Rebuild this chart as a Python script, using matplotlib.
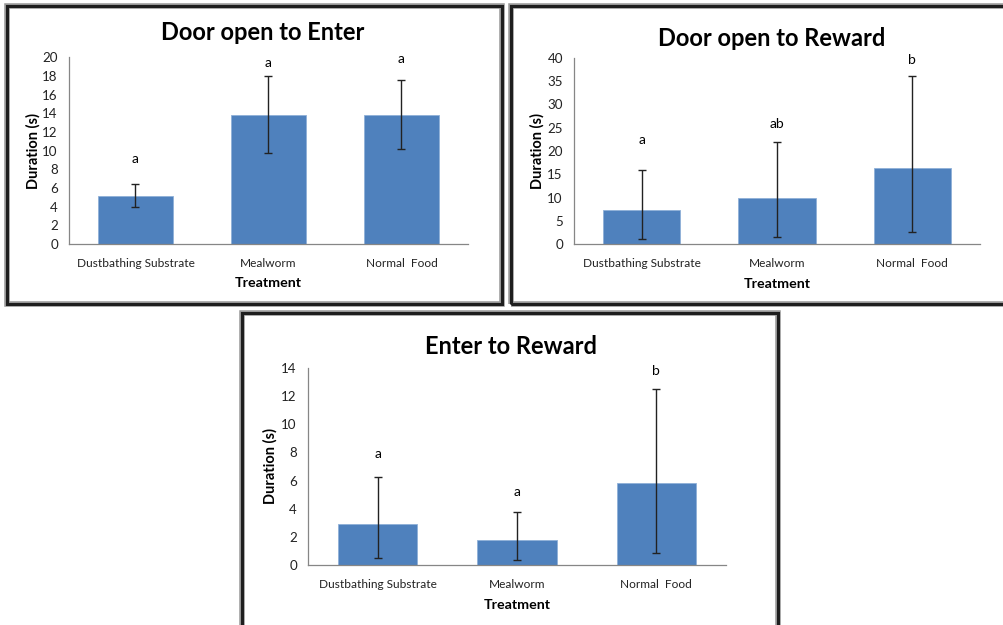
import matplotlib
matplotlib.use("Agg")
import matplotlib.pyplot as plt
from matplotlib.patches import Rectangle
import numpy as np

plt.rcParams['font.family'] = ['Lato', 'DejaVu Sans']

categories = ["Dustbathing Substrate", "Mealworm", "Normal  Food"]

# Door open to Enter
enter_mean = [5.18, 13.86, 13.86]
enter_low = [3.93, 9.71, 10.21]
enter_high = [6.43, 18.0, 17.54]
enter_letters = ["a", "a", "a"]
enter_letter_y = [9.1, 19.4, 19.8]

# Door open to Reward
reward_mean = [7.29, 9.93, 16.43]
reward_low = [1.14, 1.5, 2.57]
reward_high = [16.0, 21.86, 36.0]
reward_letters = ["a", "ab", "b"]
reward_letter_y = [22.3, 25.7, 39.5]

# Enter to Reward
e2r_mean = [2.90, 1.74, 5.85]
e2r_low = [0.45, 0.31, 0.81]
e2r_high = [6.25, 3.73, 12.55]
e2r_letters = ["a", "a", "b"]
e2r_letter_y = [7.9, 5.2, 13.8]

W, H = 1004, 625
fig = plt.figure(figsize=(W / 100, H / 100), dpi=100)
fig.patch.set_facecolor("white")

BAR = "#4F81BD"
AXIS = "#868686"


def frac_rect(x0, y0, x1, y1):
    """Pixel box (top-left origin) -> figure-fraction rect."""
    return [x0 / W, 1 - y1 / H, (x1 - x0) / W, (y1 - y0) / H]


def frame(x0, y0, x1, y1):
    # soft grey halo then dark border
    for lw, col in [(4.0, "#9a9a9a"), (2.2, "#1e1e1e")]:
        r = Rectangle((x0 / W, 1 - y1 / H), (x1 - x0) / W, (y1 - y0) / H,
                      transform=fig.transFigure, fill=False, lw=lw,
                      edgecolor=col, zorder=10)
        fig.add_artist(r)


def panel(ax_box, title, mean, low, high, letters, letter_y, ymax, ystep,
          title_xy, ylabel_x, xlabel_y):
    ax = fig.add_axes(frac_rect(*ax_box))
    x = np.arange(len(categories))
    m = np.array(mean)
    yerr = [m - np.array(low), np.array(high) - m]
    ax.bar(x, m, width=0.57, color=BAR, edgecolor="#8fb0d8", linewidth=0.6,
           zorder=2)
    ax.errorbar(x, m, yerr=yerr, fmt="none", ecolor="#222222", elinewidth=1.0,
                capsize=2.6, capthick=1.0, zorder=3)
    for xi, lab, ly in zip(x, letters, letter_y):
        ax.text(xi, ly, lab, ha="center", va="center", fontsize=10,
                color="black")
    ax.set_xlim(-0.5, len(categories) - 0.5)
    ax.set_ylim(0, ymax)
    ax.set_yticks(np.arange(0, ymax + 0.001, ystep))
    ax.set_xticks(x)
    ax.set_xticklabels(categories, fontsize=8.6, color="#222222")
    ax.tick_params(axis="y", labelsize=9.6, labelcolor="#222222", length=0,
                   pad=8)
    ax.tick_params(axis="x", length=0, pad=10)
    for s in ["top", "right"]:
        ax.spines[s].set_visible(False)
    for s in ["left", "bottom"]:
        ax.spines[s].set_color(AXIS)
        ax.spines[s].set_linewidth(0.9)
    ax.set_facecolor("none")
    fig.text(title_xy[0] / W, 1 - title_xy[1] / H, title, ha="center",
             va="center", fontsize=17, fontweight="bold")
    fig.text(ylabel_x / W, 1 - (ax_box[1] + ax_box[3]) / 2 / H,
             "Duration (s)", rotation=90, ha="center", va="center",
             fontsize=10.5, fontweight="bold")
    fig.text((ax_box[0] + ax_box[2]) / 2 / W, 1 - xlabel_y / H, "Treatment",
             ha="center", va="center", fontsize=10.3, fontweight="bold")
    return ax


# frames
frame(7, 6, 502, 304)
frame(511, 6, 1010, 304)
frame(242, 313, 778, 640)

panel((69, 57.3, 468, 244), "Door open to Enter", enter_mean, enter_low,
      enter_high, enter_letters, enter_letter_y, 20, 2,
      (263, 33), 33, 283)
panel((574, 57.7, 980, 244.3), "Door open to Reward", reward_mean, reward_low,
      reward_high, reward_letters, reward_letter_y, 40, 5,
      (772, 39), 537, 284)
panel((308, 368.3, 726, 564.7), "Enter to Reward", e2r_mean, e2r_low,
      e2r_high, e2r_letters, e2r_letter_y, 14, 2,
      (511, 347), 270, 605)

fig.savefig("out.png", dpi=100, facecolor="white")
